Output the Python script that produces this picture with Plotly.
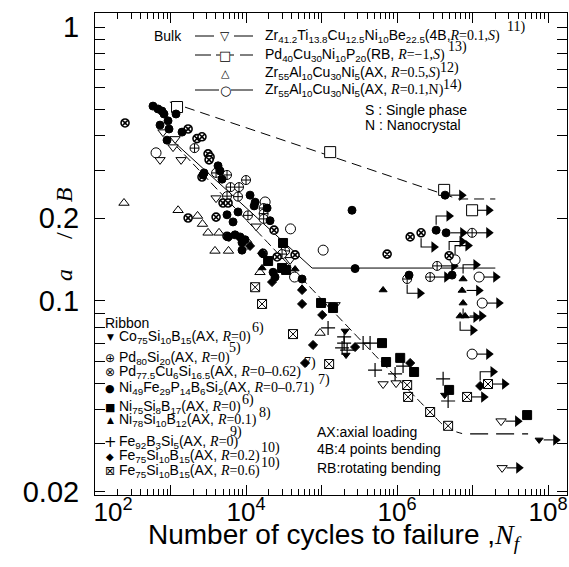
import math
import plotly.graph_objects as go

# ---------------- data (N_f , stress ratio) ----------------
# Bulk alloys
zr41_n = [795, 1150, 1080, 726, 1380, 4010, 13600, 38300, 130000, 151000, 653000, 970000]
zr41_s = [0.413, 0.390, 0.364, 0.327, 0.327, 0.237, 0.187, 0.141, 0.0965, 0.0965, 0.0496, 0.0500]
zr41_run_n = [2.38e7, 2.46e7]
zr41_run_s = [0.0363, 0.0245]
zr41_run_dir = ["r", "r"]
zr41_fit_n = [1150, 2.74e6, 4.59e6, 7.26e6]
zr41_fit_s = [0.371, 0.0392, 0.0343, 0.0327]
zr41_tail_n = [9.27e6, 5.43e7]
zr41_tail_s = [0.0326, 0.0326]

pd40_n = [1220, 1.30e5, 4.2e6]
pd40_s = [0.510, 0.349, 0.254]
pd40_run_n = [9.85e6]
pd40_run_s = [0.214]
pd40_run_dir = ["r"]
pd40_fit_n = [980, 5.9e6]
pd40_fit_s = [0.532, 0.237]
pd40_tail_n = [6.43e6, 2.0e7]
pd40_tail_s = [0.2353, 0.2353]

zr55s_n = [242, 1260, 2280, 2650, 3140, 4390, 3880, 5860, 15300, 95500]
zr55s_s = [0.2275, 0.214, 0.204, 0.1906, 0.177, 0.177, 0.152, 0.152, 0.127, 0.0762]

zr55n_n = [643, 17900, 38800, 105000, 10300, 43900]
zr55n_s = [0.347, 0.2295, 0.183, 0.153, 0.161, 0.122]
zr55n_run_n = [5.86e6, 1.22e7, 1.34e7, 9.85e6]
zr55n_run_s = [0.141, 0.122, 0.098, 0.0638]
zr55n_run_dir = ["up", "r", "r", "r"]
zr55n_fit_n = [1150, 7.5e4, 2.0e7]
zr55n_fit_s = [0.377, 0.1316, 0.1316]

# Ribbons
co75_n = [2.05e5, 2.11e5, 4.26e6]
co75_s = [0.0775, 0.0633, 0.0452]
co75_run_n = [7.6e7]
co75_run_s = [0.031]
co75_run_dir = ["r"]

pd80_n = [2080, 4010, 5600, 10000, 6230, 8070, 7830, 5600, 10600, 17100, 17100, 17100, 32900, 30000]
pd80_s = [0.361, 0.293, 0.288, 0.276, 0.260, 0.260, 0.240, 0.241, 0.205, 0.218, 0.208, 0.199, 0.152, 0.148]
pd80_run_n = [9.85e6, 3.39e6, 2.74e6, 1.36e6]
pd80_run_s = [0.177, 0.134, 0.122, 0.120]
pd80_run_dir = ["r", "r", "r", "down"]

pd775_n = [250, 1710, 2240, 2610, 3140, 3340, 3240, 2610, 4960, 5780, 4010, 1710, 5600,
           23500, 25800, 44600, 16800, 1.49e6, 7.38e5]
pd775_s = [0.446, 0.424, 0.391, 0.397, 0.344, 0.335, 0.327, 0.283, 0.2275, 0.2275, 0.202, 0.2005,
           0.172, 0.181, 0.1445, 0.147, 0.149, 0.171, 0.148]
pd775_run_n = [2.08e6, 4.89e6]
pd775_run_s = [0.177, 0.146]
pd775_run_dir = ["down", "up"]

ni49_n = [586, 682, 771, 820, 1183, 726, 927, 955, 899, 1420, 2780, 4260, 4530, 4810, 2690,
          11300, 13200, 12800, 19000, 20800, 7830, 5600, 6730, 8330, 9700, 8850, 8850, 5780, 7150,
          55200, 22800, 24200, 253000, 278000, 1.44e6, 5.35e6]
ni49_s = [0.514, 0.502, 0.493, 0.481, 0.481, 0.438, 0.454, 0.424, 0.386, 0.413, 0.293, 0.311,
          0.298, 0.278, 0.288, 0.243, 0.229, 0.222, 0.218, 0.196, 0.211, 0.206, 0.194, 0.171,
          0.167, 0.163, 0.153, 0.171, 0.174, 0.120, 0.127, 0.122, 0.214, 0.131, 0.124, 0.124]
ni49_run_n = [4.32e6, 3.29e6, 4.46e6]
ni49_run_s = [0.243, 0.181, 0.177]
ni49_run_dir = ["r", "up", "r"]

ni75_n = [30900, 19600, 30000, 33900, 98500, 142000, 632000, 715000, 1.10e6, 1.68e6, 4.89e6, 5.27e7]
ni75_s = [0.1625, 0.1396, 0.1317, 0.1295, 0.0981, 0.094, 0.070, 0.0597, 0.0618, 0.0549, 0.0472, 0.0382]

ni78_n = [16300, 44600, 653000, 55200]
ni78_s = [0.1317, 0.1305, 0.1094, 0.111]
ni78_run_n = [7.48e6, 7.26e6, 7.48e6, 6.83e6, 7.96e6]
ni78_run_s = [0.120, 0.109, 0.098, 0.0879, 0.0879]
ni78_run_dir = ["up", "r", "down", "down", "r"]

fe92_n = [1.22e5, 1.99e5, 1.99e5, 1.87e5, 2.18e5, 3.55e5, 4.39e5, 5.11e5, 9.41e5, 1.20e6, 4.07e6, 4.74e6]
fe92_s = [0.0795, 0.0737, 0.070, 0.0672, 0.066, 0.070, 0.070, 0.0558, 0.054, 0.0577, 0.0518, 0.043]

fe752_n = [5950, 11300, 16300, 22100, 55200, 55200, 102000, 77100, 278000, 1.49e6, 60400]
fe752_s = [0.171, 0.1585, 0.149, 0.117, 0.1094, 0.0973, 0.0887, 0.0689, 0.0677, 0.0592, 0.0592]
fe752_run_n = [1.26e7]
fe752_run_s = [0.0488]
fe752_run_dir = ["up"]

fe756_n = [13200, 16300, 41900, 126000, 1.36e6, 1.40e6, 2.74e6, 4.74e6]
fe756_s = [0.112, 0.0973, 0.0755, 0.0587, 0.0492, 0.0445, 0.0392, 0.0349]
fe756_run_n = [1.60e7, 8.45e6]
fe756_run_s = [0.0496, 0.0445]
fe756_run_dir = ["r", "r"]

NB = "\u00a0"
x_tickvals = [1e2, 1e3, 1e4, 1e5, 1e6, 1e7, 1e8]
x_ticktext = [NB * 5 + "10<sup>2</sup>", "", "10<sup>4</sup>", "", "10<sup>6</sup>", "", "10<sup>8</sup>"]
y_tickvals = [0.02, 0.1, 0.2, 1]
y_ticktext = ["0.02", "0.1", "0.2", "1"]

# ---------------- figure ----------------
SANS = "Liberation Sans, Arial"
SERIF = "Liberation Serif, Times New Roman"
GLYPH = "DejaVu Sans"
K = "black"

# plot area in pixels (for placing legend / notes in paper coordinates)
L_PX, R_PX, T_PX, B_PX = 95, 567, 13, 495


def px(x, y):
    return (x - L_PX) / (R_PX - L_PX), (B_PX - y) / (B_PX - T_PX)


def serif(t):
    return '<span style="font-family:Liberation Serif">' + t + "</span>"


def ital(t):
    return '<span style="font-family:Liberation Serif"><i>' + t + "</i></span>"


fig = go.Figure()

# fit lines
fig.add_trace(go.Scatter(x=pd40_fit_n, y=pd40_fit_s, mode="lines",
                         line=dict(color=K, width=1, dash="10px,6px")))
fig.add_trace(go.Scatter(x=pd40_tail_n, y=pd40_tail_s, mode="lines",
                         line=dict(color=K, width=1, dash="10px,6px")))
fig.add_trace(go.Scatter(x=zr41_fit_n, y=zr41_fit_s, mode="lines",
                         line=dict(color=K, width=1, dash="9px,4px", shape="spline")))
fig.add_trace(go.Scatter(x=zr41_tail_n, y=zr41_tail_s, mode="lines",
                         line=dict(color=K, width=1.3, dash="18px,8px")))
fig.add_trace(go.Scatter(x=zr55n_fit_n, y=zr55n_fit_s, mode="lines",
                         line=dict(color=K, width=1)))

# runout arrows
arrow_sets = [
    (zr41_run_n, zr41_run_s, zr41_run_dir),
    (pd40_run_n, pd40_run_s, pd40_run_dir),
    (zr55n_run_n, zr55n_run_s, zr55n_run_dir),
    (co75_run_n, co75_run_s, co75_run_dir),
    (pd80_run_n, pd80_run_s, pd80_run_dir),
    (pd775_run_n, pd775_run_s, pd775_run_dir),
    (ni49_run_n, ni49_run_s, ni49_run_dir),
    (ni78_run_n, ni78_run_s, ni78_run_dir),
    (fe752_run_n, fe752_run_s, fe752_run_dir),
    (fe756_run_n, fe756_run_s, fe756_run_dir),
]
lx, ly, hx, hy = [], [], [], []
for ns, ss, ds in arrow_sets:
    for n, s, d in zip(ns, ss, ds):
        if d == "r":
            x0, x1 = n * 10 ** 0.06, n * 10 ** 0.22
            lx += [x0, x1, None]
            ly += [s, s, None]
            hx.append(x1)
            hy.append(s)
        else:
            sign = 1 if d == "up" else -1
            y0 = s * 10 ** (sign * 0.02)
            y1 = s * 10 ** (sign * 0.052)
            x1 = n * 10 ** 0.17
            lx += [n, n, x1, None]
            ly += [y0, y1, y1, None]
            hx.append(x1)
            hy.append(y1)
fig.add_trace(go.Scatter(x=lx, y=ly, mode="lines", line=dict(color=K, width=1.1)))
fig.add_trace(go.Scatter(x=hx, y=hy, mode="markers",
                         marker=dict(symbol="triangle-right", size=10, color=K)))


def pts(n, s, rn, rs, sym, size, lw=1.0, fill=False):
    fig.add_trace(go.Scatter(
        x=list(n) + list(rn), y=list(s) + list(rs), mode="markers",
        marker=dict(symbol=sym, size=size, color="white" if not fill else K,
                    line=dict(color=K, width=lw))))


pts(zr41_n, zr41_s, zr41_run_n, zr41_run_s, "triangle-down", 9)
pts(pd40_n, pd40_s, pd40_run_n, pd40_run_s, "square", 11)
pts(zr55n_n, zr55n_s, zr55n_run_n, zr55n_run_s, "circle", 10)
pts(zr55s_n, zr55s_s, [], [], "triangle-up", 9)
pts(co75_n, co75_s, co75_run_n, co75_run_s, "triangle-down", 7, fill=True)
pts(pd80_n, pd80_s, pd80_run_n, pd80_run_s, "circle-cross", 9)
pts(pd775_n, pd775_s, pd775_run_n, pd775_run_s, "circle-x", 8, lw=1.6)
pts(ni49_n, ni49_s, ni49_run_n, ni49_run_s, "circle", 8, fill=True)
pts(ni75_n, ni75_s, [], [], "square", 9, fill=True)
pts(ni78_n, ni78_s, ni78_run_n, ni78_run_s, "triangle-up", 7, fill=True)
pts(fe92_n, fe92_s, [], [], "cross-thin", 10, lw=1.2)
pts(fe752_n, fe752_s, fe752_run_n, fe752_run_s, "diamond", 7, fill=True)
pts(fe756_n, fe756_s, fe756_run_n, fe756_run_s, "square-x", 9)

axis_common = dict(type="log", showline=True, linecolor=K, linewidth=1, mirror="allticks",
                   ticks="inside", tickcolor=K, tickwidth=1, showgrid=False, zeroline=False)

minor_x = [m * 10 ** e for e in range(2, 9) for m in range(2, 10)]
minor_y = [m * 10 ** e for e in (-2, -1) for m in range(2, 10)]

fig.update_xaxes(**axis_common, range=[2, 8.25], tickmode="array", tickvals=x_tickvals,
                 ticktext=x_ticktext, ticklen=10, ticklabelstandoff=-6,
                 tickfont=dict(family=SANS, size=26, color=K),
                 minor=dict(tickmode="array", tickvals=minor_x, ticks="inside", ticklen=6,
                            tickcolor=K, tickwidth=1, showgrid=False))
fig.update_yaxes(**axis_common, range=[math.log10(0.0195), math.log10(1.125)], tickmode="array",
                 tickvals=y_tickvals, ticktext=y_ticktext, ticklen=10, ticklabelstandoff=9,
                 tickfont=dict(family=SANS, size=29, color=K),
                 minor=dict(tickmode="array", tickvals=minor_y, ticks="inside", ticklen=10,
                            tickcolor=K, tickwidth=1, showgrid=False))

ann_list = []
shapes = []


def note(x, y, text, size=14, family=SANS, xanchor="left"):
    xp, yp = px(x, y)
    ann_list.append(dict(x=xp, y=yp, xref="paper", yref="paper", text=text, showarrow=False,
                         xanchor=xanchor, yanchor="middle", font=dict(family=family, size=size, color=K)))


def seg(x0, x1, y, dash="solid"):
    a, b = px(x0, y)
    c, _ = px(x1, y)
    shapes.append(dict(type="line", xref="paper", yref="paper", x0=a, x1=c, y0=b, y1=b,
                       line=dict(color=K, width=1, dash=dash)))


# ---- Bulk legend ----
note(152, 36, "Bulk")
bulk_rows = [
    (36, "▽", 12, "Zr<sub>41.2</sub>Ti<sub>13.8</sub>Cu<sub>12.5</sub>Ni<sub>10</sub>Be<sub>22.5</sub>(4B,"
     + ital("R") + serif("=0.1,") + ital("S") + serif(")"), (505, 27, "11)")),
    (55, "□", 13, "Pd<sub>40</sub>Cu<sub>30</sub>Ni<sub>10</sub>P<sub>20</sub>(RB, "
     + ital("R") + serif("=−1,") + ital("S") + serif(")"), (446, 47, "13)")),
    (73, "△", 11, "Zr<sub>55</sub>Al<sub>10</sub>Cu<sub>30</sub>Ni<sub>5</sub>(AX, "
     + ital("R") + serif("=0.5,") + ital("S") + serif(")"), (438, 68, "12)")),
    (90, "○", 13, "Zr<sub>55</sub>Al<sub>10</sub>Cu<sub>30</sub>Ni<sub>5</sub>(AX, "
     + ital("R") + serif("=0.1,N)"), (441, 85, "14)")),
]
for y, g, gs, txt, ref in bulk_rows:
    note(225, y, g, size=gs, family=GLYPH, xanchor="center")
    note(263, y, txt)
    note(ref[0], ref[1], ref[2], family=SERIF)
# key lines
seg(195, 214, 36)
seg(234, 253, 36)
seg(195, 211, 55)
seg(216, 220, 55)
seg(230, 234, 55)
seg(240, 253, 55)
seg(195, 219, 90)
seg(231, 253, 90)

note(363, 110, "S : Single phase")
note(363, 125, "N : Nanocrystal")

# ---- Ribbon legend ----
note(103, 323, "Ribbon")
ribbon_rows = [
    (337, "▼", 9, "Co<sub>75</sub>Si<sub>10</sub>B<sub>15</sub>(AX, " + ital("R") + serif("=0)"), (250, 328, "6)")),
    (358, "⊕", 12, "Pd<sub>80</sub>Si<sub>20</sub>(AX, " + ital("R") + serif("=0)"), (227, 348, "5)")),
    (372, "⊗", 12, "Pd<sub>77.5</sub>Cu<sub>6</sub>Si<sub>16.5</sub>(AX, " + ital("R") + serif("=0–0.62)"), (302, 363, "7)")),
    (388, "●", 11, "Ni<sub>49</sub>Fe<sub>29</sub>P<sub>14</sub>B<sub>6</sub>Si<sub>2</sub>(AX, " + ital("R") + serif("=0–0.71)"), (316, 380, "7)")),
    (407, "■", 11, "Ni<sub>75</sub>Si<sub>8</sub>B<sub>17</sub>(AX, " + ital("R") + serif("=0)"), (240, 400, "6)")),
    (420, "▲", 9, "Ni<sub>78</sub>Si<sub>10</sub>B<sub>12</sub>(AX, " + ital("R") + serif("=0.1)"), (257, 413, "8)")),
    (442, "+", 15, "Fe<sub>92</sub>B<sub>3</sub>Si<sub>5</sub>(AX, " + ital("R") + serif("=0)"), (228, 432, "9)")),
    (456, "◆", 10, "Fe<sub>75</sub>Si<sub>10</sub>B<sub>15</sub>(AX, " + ital("R") + serif("=0.2)"), (259, 448, "10)")),
    (471, "⊠", 12, "Fe<sub>75</sub>Si<sub>10</sub>B<sub>15</sub>(AX, " + ital("R") + serif("=0.6)"), (259, 463, "10)")),
]
for y, g, gs, txt, ref in ribbon_rows:
    note(110, y, g, size=gs, family=GLYPH, xanchor="center")
    note(117, y, txt)
    note(ref[0], ref[1], ref[2], family=SERIF)

# ---- loading modes ----
note(315, 432, "AX:axial loading")
note(315, 449, "4B:4 points bending")
note(315, 468, "RB:rotating bending")

# axis titles
note(64, 234, "<i>a</i>" + NB * 5 + "/" + NB * 5 + "<i>B</i>", size=24, family=SERIF, xanchor="center")
ann_list[-1]["textangle"] = -90
note(335, 536, "Number of cycles to failure ," + ital("N<sub>f</sub>"), size=28, xanchor="center")

fig.update_layout(
    width=569, height=567, margin=dict(l=L_PX, r=569 - R_PX, t=T_PX, b=567 - B_PX),
    paper_bgcolor="white", plot_bgcolor="white",
    font=dict(family=SANS, color=K),
    annotations=ann_list, shapes=shapes,
    showlegend=False,
    hovermode=False,
)

fig.write_html("out.html", config={"displayModeBar": False})
